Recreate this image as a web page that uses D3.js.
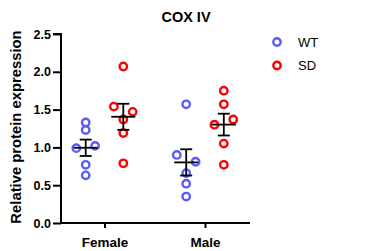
<!DOCTYPE html>
<html><head><meta charset="utf-8">
<script src="https://cdn.jsdelivr.net/npm/d3@7"></script>
<style>
html,body{margin:0;padding:0;background:#fff;}
svg{display:block;font-family:"Liberation Sans",Arial,Helvetica,sans-serif;}
</style></head>
<body>
<svg id="chart" width="375" height="251"></svg>
<script>
const categories = ["Female", "Male"];
const groups = ["WT", "SD"];
const femaleWT = [1.33, 1.23, 0.99, 1.02, 0.77, 0.63];
const femaleSD = [2.07, 1.54, 1.47, 1.37, 1.19, 0.79];
const maleWT = [1.57, 0.90, 0.81, 0.66, 0.52, 0.35];
const maleSD = [1.75, 1.57, 1.30, 1.37, 1.05, 0.77];
const yTicks = [0, 0.5, 1.0, 1.5, 2.0, 2.5];
const colors = {WT: "#5b5bf7", SD: "#ff0000"};
const titleText = "COX IV";
const yLabel = "Relative protein expression";

const series = [
  {cat: "Female", grp: "WT", vals: femaleWT},
  {cat: "Female", grp: "SD", vals: femaleSD},
  {cat: "Male", grp: "WT", vals: maleWT},
  {cat: "Male", grp: "SD", vals: maleSD}
];

const svg = d3.select("#chart");
const axisLeftX = 61, axisRightX = 250;
const y = d3.scaleLinear().domain([0, 2.5]).range([223, 34]);
const x = d3.scalePoint().domain(categories).range([104.5, 205]);
const sub = d3.scalePoint().domain(groups).range([-18.8, 18.8]);

// title
svg.append("text").attr("x", 186).attr("y", 21.5).attr("text-anchor", "middle")
  .attr("font-weight", "bold").attr("font-size", 14.5).text(titleText);

// y axis
const yAxis = svg.append("g").attr("transform", `translate(${axisLeftX},0)`)
  .call(d3.axisLeft(y).tickValues(yTicks).tickFormat(d3.format(".1f")).tickSize(8).tickPadding(2));
yAxis.select(".domain").attr("stroke-width", 2).attr("d", `M-8,${y(2.5)}H0V${y(0)}`);
yAxis.selectAll(".tick line").attr("stroke-width", 2);
yAxis.selectAll(".tick text").attr("font-size", 12.5).attr("font-weight", "bold")
  .attr("font-family", '"Liberation Sans",Arial,sans-serif').attr("fill", "#000");

// x axis
const xAxis = svg.append("g").attr("transform", `translate(0,${y(0)})`)
  .call(d3.axisBottom(x).tickSize(5).tickPadding(9));
xAxis.select(".domain").attr("stroke-width", 2).attr("d", `M${axisLeftX - 1},0H${axisRightX}`);
xAxis.selectAll(".tick line").attr("stroke-width", 2);
xAxis.selectAll(".tick text").attr("font-size", 13.5).attr("font-weight", "bold")
  .attr("font-family", '"Liberation Sans",Arial,sans-serif').attr("fill", "#000");

// y label
svg.append("text").attr("transform", `translate(20.5,127) rotate(-90)`)
  .attr("text-anchor", "middle").attr("font-weight", "bold").attr("font-size", 14.8)
  .text(yLabel);

// dodge (Prism-like scatter): cluster close values, spread symmetrically
function dodge(vals) {
  const idx = vals.map((v, i) => i).sort((a, b) => vals[b] - vals[a] || a - b);
  const off = new Array(vals.length).fill(0);
  let cluster = [idx[0]];
  const flush = () => {
    const c = cluster.slice().sort((a, b) => a - b);
    c.forEach((k, j) => off[k] = (j - (c.length - 1) / 2) * 18.8);
  };
  for (let i = 1; i < idx.length; i++) {
    const gap = y(vals[idx[i]]) - y(vals[idx[i - 1]]);
    if (gap < 7.2) cluster.push(idx[i]); else { flush(); cluster = [idx[i]]; }
  }
  flush();
  return off;
}

series.forEach(s => {
  const cx = x(s.cat) + sub(s.grp);
  const off = dodge(s.vals);
  svg.append("g").selectAll("circle").data(s.vals).join("circle")
    .attr("cx", (d, i) => cx + off[i]).attr("cy", d => y(d)).attr("r", 3.7)
    .attr("fill", "none").attr("stroke", colors[s.grp]).attr("stroke-width", 2.4);
});

series.forEach(s => {
  const cx = x(s.cat) + sub(s.grp);
  const m = d3.mean(s.vals);
  const sem = d3.deviation(s.vals) / Math.sqrt(s.vals.length);
  const g = svg.append("g").attr("stroke", "#000").attr("stroke-width", 1.8);
  g.append("line").attr("x1", cx - 12).attr("x2", cx + 12).attr("y1", y(m)).attr("y2", y(m));
  g.append("line").attr("x1", cx).attr("x2", cx).attr("y1", y(m + sem)).attr("y2", y(m - sem));
  g.append("line").attr("x1", cx - 6).attr("x2", cx + 6).attr("y1", y(m + sem)).attr("y2", y(m + sem));
  g.append("line").attr("x1", cx - 6).attr("x2", cx + 6).attr("y1", y(m - sem)).attr("y2", y(m - sem));
});

// legend
const leg = svg.append("g");
groups.forEach((gname, i) => {
  const ly = 42 + i * 23.5;
  leg.append("circle").attr("cx", 277).attr("cy", ly).attr("r", 3.7)
    .attr("fill", "none").attr("stroke", colors[gname]).attr("stroke-width", 2.4);
  leg.append("text").attr("x", 298).attr("y", ly).attr("dy", "0.35em")
    .attr("font-size", 13).text(gname);
});
</script>
</body></html>
